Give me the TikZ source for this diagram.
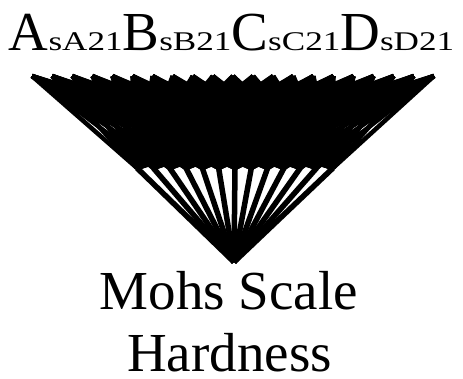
\documentclass[tikz,border=0pt]{standalone}
\usepackage{fontspec}
\setmainfont{Liberation Serif}
\newfontfamily\subfont[FakeStretch=1.3]{Liberation Serif}
\usepackage{tikz}
\usetikzlibrary{positioning}
\newcommand{\hsub}[1]{{\subfont\fontsize{27}{30}\selectfont #1}}

\begin{document}
\begin{tikzpicture}[
x=1pt, y=-1pt,
wire/.style={line width=4.5pt, black},
stem/.style={line width=5.5pt, black},
bigtext/.style={font=\fontsize{55}{64}\selectfont, inner sep=0pt}
]
\useasboundingbox (0,0) rectangle (463,378);

% layers
\foreach \i in {0,...,20}
  \coordinate (in\i) at ({32+20.1*\i},76);
\foreach \j in {0,...,12}
  \coordinate (hid\j) at ({137+16.33*\j},168);
\coordinate (out) at (234,262);

% connections
\foreach \i in {0,...,20}
  \foreach \j in {0,...,12}
    \draw[wire] (in\i) -- (hid\j);
\foreach \j in {0,...,12}
  \draw[stem] (hid\j) -- (out);

\node[bigtext, anchor=base] (inputs) at (231.5,50) {A\hsub{sA21}B\hsub{sB21}C\hsub{sC21}D\hsub{sD21}};
\node[bigtext, anchor=base] (target) at (229,309) {Mohs Scale};
\node[bigtext, anchor=base] (target2) at (229.5,371) {Hardness};
\end{tikzpicture}
\end{document}
